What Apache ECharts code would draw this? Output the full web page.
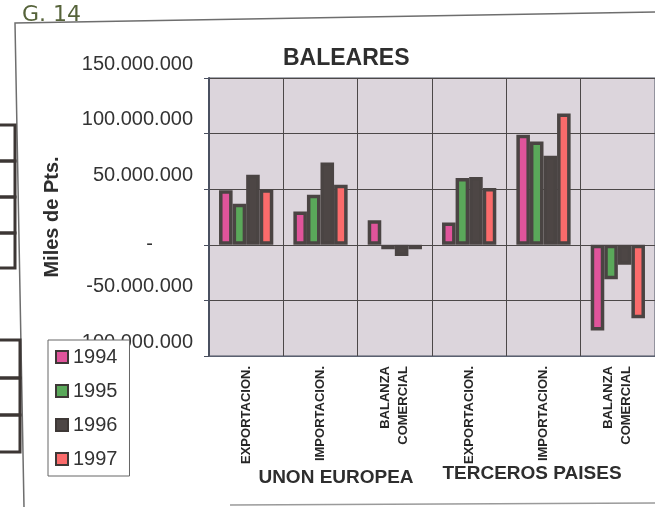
<!DOCTYPE html>
<html>
<head>
<meta charset="utf-8">
<script src="https://cdn.jsdelivr.net/npm/echarts@6/dist/echarts.min.js"></script>
<style>
  html, body { margin: 0; padding: 0; background: #fff; }
  #chart { width: 655px; height: 507px; }
</style>
</head>
<body>
<div id="chart"></div>
<script>
// categories (two groups of three)
const categories = ['EXPORTACION.', 'IMPORTACION.', 'BALANZA\nCOMERCIAL',
                    'EXPORTACION.', 'IMPORTACION.', 'BALANZA\nCOMERCIAL']
const groups = ['UNON EUROPEA', 'TERCEROS PAISES']
const years = ['1994', '1995', '1996', '1997']

// Miles de Pts.
const v1994 = [49000000, 30000000, 22000000, 20000000, 99000000, -77000000]
const v1995 = [37000000, 45000000, -4000000, 60000000, 93000000, -31000000]
const v1996 = [63000000, 74000000, -10000000, 61000000, 80000000, -18000000]
const v1997 = [50000000, 54000000, -4000000, 51000000, 118000000, -66000000]

const yTicks = [-100000000, -50000000, 0, 50000000, 100000000, 150000000]

const colors = ['#e0549b', '#5aa85a', '#4d4645', '#fb6b6b']
const values = [v1994, v1995, v1996, v1997]

const fmt = v => {
  const s = Math.abs(v).toString().replace(/\B(?=(\d{3})+(?!\d))/g, '.')
  return (v < 0 ? '-' : '') + s
}

const chart = echarts.init(document.getElementById('chart'))

const series = years.map((y, i) => ({
  name: y,
  type: 'bar',
  data: values[i],
  barGap: '0%',
  barCategoryGap: '27%',
  itemStyle: {
    color: colors[i],
    borderColor: '#4a4443',
    borderWidth: 3.5
  }
}))

chart.setOption({
  backgroundColor: '#ffffff',
  animation: false,
  title: {
    text: 'BALEARES',
    left: 278,
    top: 42,
    textStyle: {
      fontFamily: 'Liberation Sans, Arial, sans-serif',
      fontSize: 23,
      fontWeight: 'bold',
      color: '#2e2e2e'
    }
  },
  legend: {
    data: years,
    orient: 'vertical',
    left: 48,
    top: 340,
    padding: [7, 12, 7, 7],
    itemGap: 14,
    itemWidth: 12,
    itemHeight: 12,
    icon: 'rect',
    backgroundColor: '#ffffff',
    borderColor: '#666',
    borderWidth: 1,
    itemStyle: { borderWidth: 2, borderColor: '#3e3836' },
    textStyle: {
      fontFamily: 'Liberation Sans, Arial, sans-serif',
      fontSize: 20,
      lineHeight: 20,
      color: '#333'
    }
  },
  grid: {
    left: 209,
    right: 0,
    top: 78,
    bottom: 151,
    show: true,
    backgroundColor: '#dcd5dc',
    borderColor: '#4a5060',
    borderWidth: 1
  },
  xAxis: {
    type: 'category',
    data: categories,
    axisLine: { onZero: false, lineStyle: { color: '#5a6070', width: 1 } },
    axisTick: { show: false },
    splitLine: { show: true, lineStyle: { color: '#4c4848', width: 1 } },
    axisLabel: {
      rotate: 90,
      margin: 10,
      interval: 0,
      fontFamily: 'Liberation Sans, Arial, sans-serif',
      fontSize: 13,
      fontWeight: 'bold',
      lineHeight: 18,
      color: '#262626'
    }
  },
  yAxis: {
    type: 'value',
    min: yTicks[0],
    max: yTicks[yTicks.length - 1],
    interval: 50000000,
    name: 'Miles de Pts.',
    nameLocation: 'middle',
    nameGap: 147,
    nameTextStyle: {
      fontFamily: 'Liberation Sans, Arial, sans-serif',
      fontSize: 20,
      fontWeight: 'bold',
      color: '#2e2e2e'
    },
    axisLine: { show: true, lineStyle: { color: '#4a5060', width: 2 } },
    axisTick: { show: true, length: 5, lineStyle: { color: '#4a5060' } },
    splitLine: { show: true, lineStyle: { color: '#4c4848', width: 1 } },
    axisLabel: {
      margin: 16,
      formatter: v => v === 0 ? '{z|-}' : '{n|' + fmt(v) + '}',
      rich: {
        n: {
          fontFamily: 'Liberation Sans, Arial, sans-serif',
          fontSize: 20,
          color: '#333',
          padding: [0, 0, 28, 0]
        },
        z: {
          fontFamily: 'Liberation Sans, Arial, sans-serif',
          fontSize: 20,
          color: '#333',
          padding: [0, 40, 0, 0]
        }
      }
    }
  },
  graphic: [
    // handwritten page mark
    { type: 'text', left: 22, top: 4, z: 10,
      style: { text: 'G. 14', fontFamily: 'DejaVu Sans', fontSize: 22, fill: '#56633a' } },
    // scanned frame
    { type: 'polyline', z: 0, silent: true,
      shape: { points: [[655, 12], [15, 23], [24, 507]] },
      style: { stroke: '#6e6e6e', lineWidth: 1.5, fill: null } },
    { type: 'line', z: 0, silent: true,
      shape: { x1: 230, y1: 505, x2: 655, y2: 503 },
      style: { stroke: '#9a9a9a', lineWidth: 1.5 } },
    // binder boxes at left edge
    { type: 'rect', shape: { x: -5, y: 125, width: 20, height: 36 }, style: { stroke: '#3c3634', lineWidth: 3, fill: null } },
    { type: 'rect', shape: { x: -5, y: 161, width: 20, height: 36 }, style: { stroke: '#3c3634', lineWidth: 3, fill: null } },
    { type: 'rect', shape: { x: -5, y: 197, width: 20, height: 36 }, style: { stroke: '#3c3634', lineWidth: 3, fill: null } },
    { type: 'rect', shape: { x: -5, y: 233, width: 20, height: 35 }, style: { stroke: '#3c3634', lineWidth: 3, fill: null } },
    { type: 'rect', shape: { x: -5, y: 340, width: 25, height: 38 }, style: { stroke: '#3c3634', lineWidth: 3, fill: null } },
    { type: 'rect', shape: { x: -5, y: 378, width: 25, height: 37 }, style: { stroke: '#3c3634', lineWidth: 3, fill: null } },
    { type: 'rect', shape: { x: -5, y: 415, width: 25, height: 37 }, style: { stroke: '#3c3634', lineWidth: 3, fill: null } },
    // group labels
    { type: 'text', x: 336, y: 478, z: 10,
      style: { text: groups[0], align: 'center', verticalAlign: 'middle',
               fontFamily: 'Liberation Sans, Arial, sans-serif', fontSize: 19, fontWeight: 'bold', fill: '#2e2e2e' } },
    { type: 'text', x: 532, y: 474, z: 10,
      style: { text: groups[1], align: 'center', verticalAlign: 'middle',
               fontFamily: 'Liberation Sans, Arial, sans-serif', fontSize: 19, fontWeight: 'bold', fill: '#2e2e2e' } }
  ],
  series: series
})
</script>
</body>
</html>
